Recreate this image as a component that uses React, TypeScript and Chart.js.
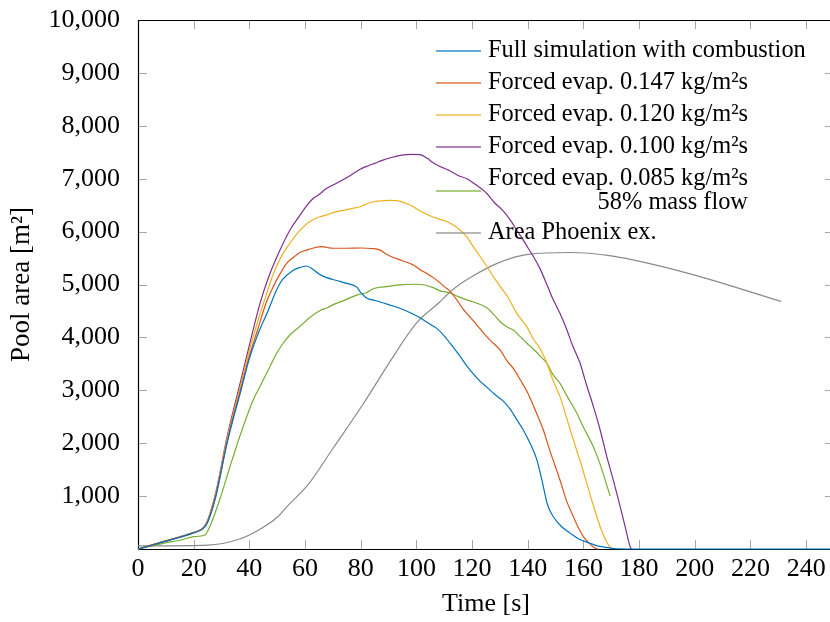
import React, { useEffect, useRef } from 'react';
import { Chart, registerables } from 'chart.js';

Chart.register(...registerables);

// ---------- data ----------
const xTicks = [0, 20, 40, 60, 80, 100, 120, 140, 160, 180, 200, 220, 240];
const yTicks = [1000, 2000, 3000, 4000, 5000, 6000, 7000, 8000, 9000, 10000];
const yTickLabels = ['1,000', '2,000', '3,000', '4,000', '5,000', '6,000', '7,000', '8,000', '9,000', '10,000'];

const seriesLabels = [
  'Full simulation with combustion',
  'Forced evap. 0.147 kg/m²s',
  'Forced evap. 0.120 kg/m²s',
  'Forced evap. 0.100 kg/m²s',
  'Forced evap. 0.085 kg/m²s\n58% mass flow',
  'Area Phoenix ex.',
];

const fullTime = [0, 3, 9, 15, 20, 23.5, 25, 28, 32, 37, 40, 43, 46.7, 49.8, 52, 55.8, 58, 60.6, 63, 65, 67.8, 71, 75, 78.6, 80, 82.2, 85, 87, 90, 94, 98, 101.3, 104, 107.3, 110, 112.1, 115.7, 119, 122.9, 125.3, 128, 131.3, 134, 136, 138.4, 141, 143.3, 145.6, 147, 149.2, 152, 155.2, 158, 162.4, 165, 168.4, 172, 180, 200, 220, 250];
const fullArea = [0, 40, 135, 220, 305, 390, 500, 1000, 2000, 3000, 3600, 4050, 4500, 4900, 5100, 5270, 5320, 5350, 5280, 5200, 5130, 5080, 5020, 4950, 4850, 4740, 4700, 4670, 4620, 4550, 4460, 4370, 4280, 4170, 4030, 3890, 3640, 3400, 3170, 3060, 2930, 2790, 2620, 2450, 2250, 1980, 1680, 1180, 850, 610, 430, 300, 200, 108, 60, 30, 5, 0, 0, 0, 0];

const evap147Time = [0, 3, 9, 15, 20, 23.5, 25, 28, 32, 37, 40, 43, 46, 48.6, 51, 53.4, 56, 58, 60.6, 63, 66, 68, 70, 75, 80, 84, 87, 89, 91.7, 95, 98.9, 101.3, 104, 106.1, 108.5, 110, 112.1, 114.5, 117, 120, 122.9, 125, 127, 130.1, 132.5, 135, 137.3, 140, 142.5, 145.6, 148, 151.6, 154, 156.4, 158, 160, 162, 164.2, 165.2];
const evap147Area = [0, 45, 140, 225, 310, 400, 520, 1020, 2030, 3050, 3650, 4150, 4650, 4960, 5200, 5400, 5520, 5600, 5650, 5690, 5715, 5700, 5685, 5685, 5690, 5680, 5650, 5580, 5510, 5450, 5370, 5280, 5200, 5130, 5030, 4960, 4870, 4710, 4520, 4340, 4160, 4030, 3920, 3760, 3560, 3400, 3200, 2950, 2650, 2250, 1850, 1300, 900, 610, 420, 235, 110, 15, 0];

const evap120Time = [0, 3, 9, 15, 20, 23.5, 25, 28, 32, 37, 40, 43, 46, 48.6, 51, 54.6, 57, 59.4, 62, 65.4, 68, 70, 73.8, 77, 79.8, 82, 84.5, 87, 90, 93, 96, 98.9, 101, 104.9, 108, 110.9, 114, 118.1, 120, 122.9, 125.3, 128, 131, 133, 136, 139.7, 142, 144.4, 146.9, 149, 151.6, 154, 156.4, 159, 161.2, 163.5, 166, 168, 169.6, 170.4];
const evap120Area = [0, 45, 140, 225, 310, 400, 530, 1050, 2080, 3120, 3750, 4300, 4800, 5200, 5480, 5780, 5950, 6090, 6200, 6280, 6320, 6360, 6400, 6440, 6470, 6520, 6565, 6580, 6590, 6585, 6540, 6470, 6400, 6300, 6240, 6190, 6100, 5900, 5750, 5530, 5340, 5120, 4900, 4750, 4460, 4200, 3970, 3790, 3510, 3200, 2880, 2470, 2060, 1630, 1240, 830, 420, 170, 30, 0];

const evap100Time = [0, 3, 9, 15, 20, 23.5, 25, 28, 32, 37, 40, 43.8, 47, 51, 54.6, 58.2, 60, 63, 65, 67.8, 70, 72.6, 76, 79.8, 83, 85, 88, 91, 95.3, 98, 101.3, 104, 106, 108.5, 112, 115, 118.1, 121, 125.3, 128, 131, 133.7, 136, 138.4, 140, 142, 144.4, 147, 149, 151.6, 154, 156, 158.8, 161, 163.6, 166, 168.4, 171, 173.2, 175, 176.8, 177.3];
const evap100Area = [0, 45, 140, 230, 315, 405, 540, 1080, 2120, 3200, 3850, 4640, 5150, 5650, 6030, 6310, 6450, 6630, 6700, 6820, 6880, 6950, 7050, 7180, 7250, 7290, 7350, 7400, 7450, 7460, 7455, 7380, 7300, 7230, 7150, 7060, 7000, 6900, 6720, 6550, 6400, 6220, 6030, 5840, 5700, 5530, 5300, 4980, 4730, 4450, 4150, 3860, 3510, 3120, 2690, 2250, 1745, 1250, 800, 420, 40, 0];

const evap085Time = [0, 3, 9, 15, 20, 24, 26, 29.7, 33, 36.7, 41.4, 43.8, 47.4, 49.8, 52, 54.6, 58, 61.8, 65.4, 68, 70.2, 74, 78.6, 82.2, 84.5, 87, 89.4, 93, 96, 100.1, 103, 106, 108.5, 112.1, 115, 118.1, 121, 125.3, 128, 130, 132.5, 135, 137, 139.7, 142, 144.4, 147, 149, 151.6, 154, 157.6, 160, 163.6, 166, 169.6];
const evap085Area = [0, 35, 107, 165, 233, 265, 450, 990, 1550, 2150, 2820, 3070, 3450, 3700, 3880, 4050, 4200, 4380, 4510, 4560, 4620, 4700, 4800, 4850, 4920, 4950, 4960, 4990, 5000, 5005, 4990, 4940, 4880, 4840, 4770, 4710, 4660, 4560, 4420, 4300, 4200, 4130, 4030, 3890, 3780, 3650, 3500, 3300, 3130, 2900, 2570, 2300, 1930, 1600, 1000];

const phoenixTime = [0, 25, 36, 44, 50, 54, 61, 70, 81, 90, 100, 108, 113, 120, 129, 140, 155, 170, 197, 231];
const phoenixArea = [60, 75, 180, 380, 600, 830, 1210, 1900, 2750, 3500, 4270, 4650, 4900, 5150, 5400, 5570, 5605, 5540, 5220, 4680];

const seriesColors = ['#0072BD', '#D95319', '#EDB120', '#7E2F8E', '#77AC30', '#8a8a8a'];

// ---------- layout/style ----------
const FONT = "'Liberation Serif', 'Times New Roman', serif";
const TICK_LEN = 9;

const toPoints = (t: number[], a: number[]) => t.map((v, i) => ({ x: v, y: a[i] }));

const framePlugin = {
  id: 'pgfFrame',
  beforeDatasetsDraw(chart: any) {
    const { ctx, chartArea, scales } = chart;
    const { left, right, top, bottom } = chartArea;
    const xs = scales.x;
    const ys = scales.y;
    ctx.save();
    ctx.strokeStyle = '#a8a8a8';
    ctx.lineWidth = 1;
    ctx.beginPath();
    xTicks.forEach((v) => {
      const px = Math.round(xs.getPixelForValue(v)) + 0.5;
      ctx.moveTo(px, bottom);
      ctx.lineTo(px, bottom - TICK_LEN);
      ctx.moveTo(px, top);
      ctx.lineTo(px, top + TICK_LEN);
    });
    yTicks.forEach((v) => {
      const py = Math.round(ys.getPixelForValue(v)) + 0.5;
      ctx.moveTo(left, py);
      ctx.lineTo(left + TICK_LEN, py);
      ctx.moveTo(right, py);
      ctx.lineTo(right - TICK_LEN, py);
    });
    ctx.stroke();
    ctx.strokeStyle = '#000';
    ctx.lineWidth = 1.2;
    ctx.beginPath();
    ctx.rect(Math.round(left) + 0.5, Math.round(top) + 0.5, Math.round(right - left), Math.round(bottom - top));
    ctx.stroke();
    ctx.restore();
  },
};

const LEG_LINE_X0 = 436;
const LEG_LINE_X1 = 481;
const LEG_TEXT_X = 488;
const LEG_TOP = 51;
const LEG_ROW = 32;
const LEG_SUB = 24;

const legendPlugin = {
  id: 'pgfLegend',
  afterDraw(chart: any) {
    const ctx = chart.ctx;
    ctx.save();
    ctx.font = `24.4px ${FONT}`;
    ctx.textBaseline = 'middle';
    let y = LEG_TOP;
    chart.data.datasets.forEach((ds: any) => {
      const lines = String(ds.label).split('\n');
      const lineY = y + ((lines.length - 1) * LEG_SUB) / 2;
      ctx.strokeStyle = ds.borderColor;
      ctx.globalAlpha = 0.8;
      ctx.lineWidth = 1.3;
      ctx.beginPath();
      ctx.moveTo(LEG_LINE_X0, lineY);
      ctx.lineTo(LEG_LINE_X1, lineY);
      ctx.stroke();
      ctx.globalAlpha = 1;
      ctx.fillStyle = '#000';
      ctx.textAlign = 'left';
      ctx.fillText(lines[0], LEG_TEXT_X, y);
      const w0 = ctx.measureText(lines[0]).width;
      for (let k = 1; k < lines.length; k++) {
        ctx.textAlign = 'right';
        ctx.fillText(lines[k], LEG_TEXT_X + w0, y + k * LEG_SUB);
      }
      y += LEG_ROW + (lines.length - 1) * (LEG_SUB - 2);
    });
    ctx.restore();
  },
};

export default function App() {
  const canvasRef = useRef<HTMLCanvasElement | null>(null);

  useEffect(() => {
    if (!canvasRef.current) return;
    const seriesData = [
      toPoints(fullTime, fullArea),
      toPoints(evap147Time, evap147Area),
      toPoints(evap120Time, evap120Area),
      toPoints(evap100Time, evap100Area),
      toPoints(evap085Time, evap085Area),
      toPoints(phoenixTime, phoenixArea),
    ];
    const chart = new Chart(canvasRef.current, {
      type: 'line',
      data: {
        datasets: seriesData.map((d, i) => ({
          label: seriesLabels[i],
          data: d,
          borderColor: seriesColors[i],
          backgroundColor: seriesColors[i],
          borderWidth: 1.2,
          pointRadius: 0,
          cubicInterpolationMode: 'monotone' as const,
          fill: false,
          clip: 6,
        })),
      },
      options: {
        responsive: false,
        animation: false,
        devicePixelRatio: 1,
        layout: { padding: { top: 20, right: 2, left: 0, bottom: 0 } },
        plugins: {
          legend: { display: false },
          tooltip: { enabled: false },
        },
        scales: {
          x: {
            type: 'linear',
            min: 0,
            max: 250,
            grid: { display: false },
            border: { display: false },
            afterBuildTicks: (scale: any) => {
              scale.ticks = xTicks.map((v) => ({ value: v }));
            },
            afterFit: (scale: any) => {
              scale.height = 73;
              scale.paddingLeft = 0;
              scale.paddingRight = 0;
            },
            ticks: {
              autoSkip: false,
              maxRotation: 0,
              padding: -3,
              color: '#000',
              font: { family: FONT, size: 26 },
              callback: (v: any) => String(v),
            },
            title: {
              display: true,
              text: 'Time [s]',
              color: '#000',
              font: { family: FONT, size: 26 },
              padding: { top: 0, bottom: 2 },
            },
          },
          y: {
            type: 'linear',
            min: 0,
            max: 10000,
            grid: { display: false },
            border: { display: false },
            afterBuildTicks: (scale: any) => {
              scale.ticks = yTicks.map((v) => ({ value: v }));
            },
            afterFit: (scale: any) => {
              scale.width = 138;
              scale.paddingTop = 0;
              scale.paddingBottom = 0;
            },
            ticks: {
              padding: 10,
              color: '#000',
              font: { family: FONT, size: 26 },
              callback: (v: any) => {
                const idx = yTicks.indexOf(Number(v));
                return idx >= 0 ? yTickLabels[idx] : '';
              },
            },
            title: {
              display: true,
              text: 'Pool area [m²]',
              color: '#000',
              font: { family: FONT, size: 27 },
              padding: { top: 6, bottom: 0 },
            },
          },
        },
      },
      plugins: [framePlugin, legendPlugin],
    });
    return () => chart.destroy();
  }, []);

  return (
    <div style={{ position: 'fixed', left: 0, top: 0, width: 830, height: 622, overflow: 'hidden', background: '#fff' }}>
      <canvas ref={canvasRef} width={836} height={622} style={{ display: 'block' }} />
    </div>
  );
}
